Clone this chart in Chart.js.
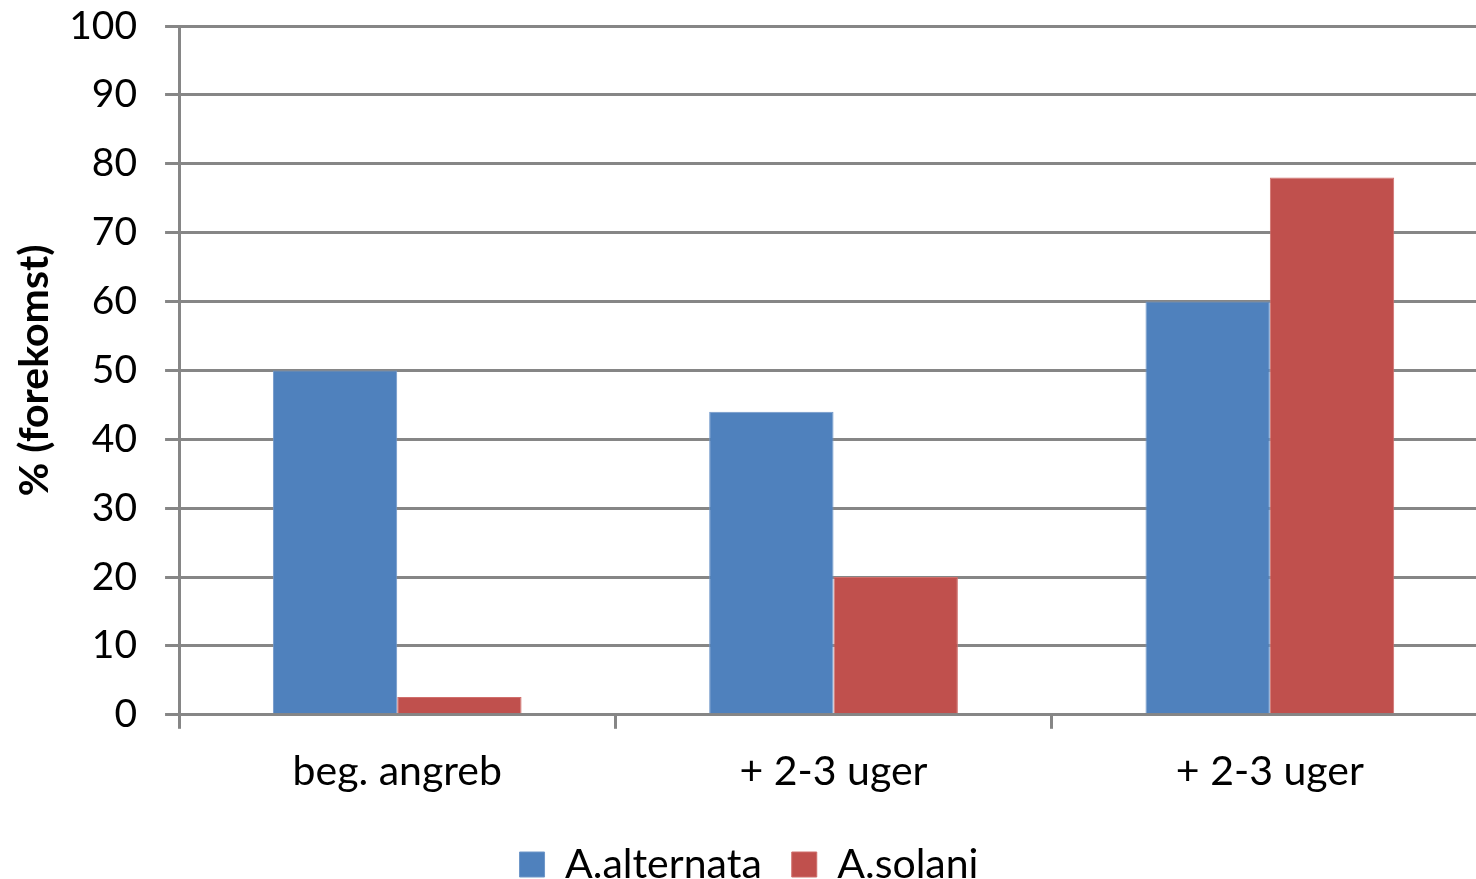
<!DOCTYPE html>
<html>
<head>
<meta charset="utf-8">
<script src="https://cdn.jsdelivr.net/npm/chart.js@4/dist/chart.umd.min.js"></script>
<style>
    html, body { margin: 0; padding: 0; background: #fff; overflow: hidden; }
    #wrap { width: 1488px; height: 879px; }
</style>
</head>
<body>
<div id="wrap"><canvas id="chart"></canvas></div>
<script>
const categories = ["beg. angreb", "+ 2-3 uger", "+ 2-3 uger"];
const alternata = [50, 44, 60];
const solani = [2.6, 20, 78];
const yTicks = [0, 10, 20, 30, 40, 50, 60, 70, 80, 90, 100];

const gridColor = "#868686";
const fontFamily = "Lato, 'Open Sans', sans-serif";

new Chart(document.getElementById("chart"), {
    type: "bar",
    data: {
        labels: categories,
        datasets: [
            {
                label: "A.alternata",
                data: alternata,
                backgroundColor: "#4F81BD",
                borderColor: "#6f97c9",
                borderWidth: 1,
                categoryPercentage: 0.57,
                barPercentage: 1.0
            },
            {
                label: "A.solani",
                data: solani,
                backgroundColor: "#C0504D",
                borderColor: "#d06f6c",
                borderWidth: 1,
                categoryPercentage: 0.57,
                barPercentage: 1.0
            }
        ]
    },
    options: {
        responsive: true,
        maintainAspectRatio: false,
        animation: false,
        layout: { padding: { top: 0, right: 0, left: 10, bottom: -16 } },
        scales: {
            x: {
                grid: {
                    display: true,
                    drawOnChartArea: false,
                    drawTicks: true,
                    tickLength: 14,
                    color: gridColor,
                    lineWidth: 3
                },
                border: { color: gridColor, width: 3 },
                ticks: {
                    color: "#000",
                    padding: 18,
                    font: { family: fontFamily, size: 41 }
                }
            },
            y: {
                min: 0,
                max: 100,
                afterBuildTicks: axis => {
                    axis.ticks = yTicks.map(v => ({ value: v }));
                },
                afterFit: axis => {
                    axis.paddingTop = 26;
                    axis.paddingBottom = 0;
                },
                grid: {
                    color: gridColor,
                    lineWidth: 3,
                    tickLength: 14
                },
                border: { color: gridColor, width: 3 },
                ticks: {
                    color: "#000",
                    padding: 28,
                    font: { family: fontFamily, size: 39 }
                },
                title: {
                    display: true,
                    text: "% (forekomst)",
                    color: "#000",
                    font: { family: fontFamily, size: 41, weight: "bold" },
                    padding: { top: 0, bottom: -18 }
                }
            }
        },
        plugins: {
            legend: {
                position: "bottom",
                labels: {
                    color: "#000",
                    boxWidth: 25,
                    boxHeight: 25,
                    padding: 30,
                    font: { family: fontFamily, size: 41 }
                }
            },
            tooltip: { enabled: false }
        }
    }
});
</script>
</body>
</html>
